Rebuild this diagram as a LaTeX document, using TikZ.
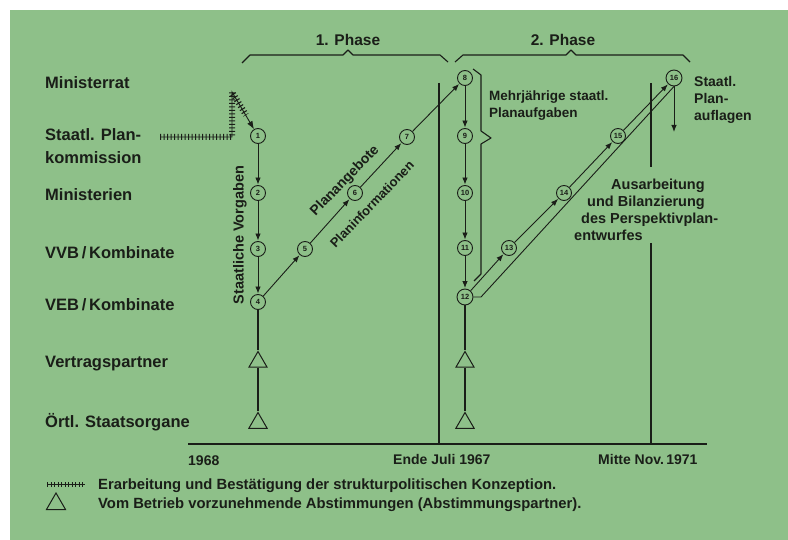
\documentclass[tikz,border=0pt]{standalone}
\usepackage{fontspec}
\setmainfont{Liberation Sans}
\usetikzlibrary{arrows.meta,shapes.geometric,positioning}
\definecolor{planbg}  {RGB}{142,192,137}
\definecolor{planink} {RGB}{26,30,24}

\begin{document}
\begin{tikzpicture}[x=1pt, y=-1pt,
  stufe/.style={circle, draw=planink, line width=0.9pt,
                minimum size=15pt, inner sep=0pt, text=planink,
                font=\fontsize{7.5}{8}\selectfont\bfseries},
  dreieck/.style={regular polygon, regular polygon sides=3,
                  draw=planink, line width=1pt,
                  minimum size=21pt, inner sep=0pt},
  ebene/.style={inner sep=0pt, align=left, text=planink,
                font=\fontsize{16.5}{23}\selectfont\bfseries},
  txt/.style={inner sep=0pt, align=left, text=planink,
              font=\fontsize{#1}{17}\selectfont\bfseries},
  txt/.default=14,
  pfeil/.style={-{Latex[length=7pt,width=5.5pt]}, line width=0.9pt,
                draw=planink, shorten >=0.5pt},
  lin/.style={line width=1.1pt, draw=planink},
  achse/.style={line width=2pt, draw=planink},
  klammer/.style={line width=1.1pt, draw=planink, line join=round},
  konz/.style={line width=0.9pt, draw=planink},
  strich/.style={line width=#1, draw=planink, line join=bevel,
                 dash pattern=on 1.1pt off 2.4pt},
  strich/.default=6pt
]
  % background
  \useasboundingbox (0,0) rectangle (788,540);
  \fill[white] (-5,-5) rectangle (800,550);
  \fill[planbg] (10,10) rectangle (800,550);

  % levels
  \node[ebene, anchor=base west] (mr)  at (45,89)  {Ministerrat};
  \node[ebene, anchor=north west] (spk) at (45,128) {Staatl. Plan-\\kommission};
  \node[ebene, anchor=base west] (min) at (45,201) {Ministerien};
  \node[ebene, anchor=base west] (vvb) at (45,259) {VVB\,/\,Kombinate};
  \node[ebene, anchor=base west] (veb) at (45,311) {VEB\,/\,Kombinate};
  \node[ebene, anchor=base west] (vp)  at (45,368) {Vertragspartner};
  \node[ebene, anchor=base west] (oso) at (45,428) {Örtl. Staatsorgane};

  % time axis
  \coordinate (t0) at (188,444);
  \coordinate (t1) at (707,444);
  \coordinate (juliO) at (439,83);
  \coordinate (juli)  at (439,444);
  \coordinate (novO)  at (651,83);
  \coordinate (novM)  at (651,167);
  \coordinate (novU)  at (651,243);
  \coordinate (nov)   at (651,444);
  \draw[achse] (t0) -- (t1);
  \draw[lin] (juliO) -- (juli);
  \draw[lin] (novO) -- (novM);
  \draw[lin] (novU) -- (nov);
  \node[txt, anchor=base west] (j68) at (188,465) {1968};
  \node[txt, anchor=base west] (j67) at (393,464) {Ende Juli 1967};
  \node[txt, anchor=base west] (j71) at (598,464) {Mitte Nov.\,1971};

  % steps
  \node[stufe] (N1)  at (258,136) {1};
  \node[stufe] (N2)  at (258,193) {2};
  \node[stufe] (N3)  at (258,249) {3};
  \node[stufe] (N4)  at (258,302) {4};
  \node[stufe] (N5)  at (305,249) {5};
  \node[stufe] (N6)  at (355,193) {6};
  \node[stufe] (N7)  at (407,137) {7};
  \node[stufe] (N8)  at (465,78)  {8};
  \node[stufe] (N9)  at (465,136) {9};
  \node[stufe] (N10) at (465,193) {10};
  \node[stufe] (N11) at (465,248) {11};
  \node[stufe, minimum size=16pt] (N12) at (465,297) {12};
  \node[stufe] (N13) at (509,248) {13};
  \node[stufe] (N14) at (564,193) {14};
  \node[stufe] (N15) at (618,136) {15};
  \node[stufe, minimum size=16pt] (N16) at (674,78) {16};

  \node[dreieck] (T1) at (258,362) {};
  \node[dreieck] (T2) at (258,423) {};
  \node[dreieck] (T3) at (465,362) {};
  \node[dreieck] (T4) at (465,423) {};

  \foreach \von/\nach in {N1/N2, N2/N3, N3/N4, N4/N5, N5/N6, N6/N7, N7/N8,
                          N8/N9, N9/N10, N10/N11, N11/N12,
                          N12/N13, N13/N14, N14/N15, N15/N16}
    \draw[pfeil] (\von) -- (\nach);
  \foreach \von/\nach in {N4/T1, T1/T2, N12/T3, T3/T4}
    \draw[lin] (\von) -- (\nach);

  % back to 12 and down from 16
  \coordinate (rueck) at (481,297);
  \coordinate (auflage) at (674,132);
  \draw[konz] (N16.south) -- (rueck) -- (N12.east);
  \draw[pfeil, shorten >=0pt] (N16) -- (auflage);

  % structural concept
  \coordinate (k0) at (160,137);
  \coordinate (k1) at (232,137);
  \coordinate (k2) at (232,92);
  \coordinate (k3) at (246,115);
  \draw[strich] (k0) -- (k1) -- (k2) -- (k3);
  \draw[konz, -{Latex[length=8pt,width=6pt]}] (k0) -- (k1) -- (k2) -- (N1);

  % phases
  \draw[klammer] (242,63) -- (250,55) -- (343,55) -- (348,50) -- (353,55)
                 -- (440,55) -- (448,62);
  \draw[klammer] (455,62) -- (463,55) -- (566,55) -- (571,50) -- (576,55)
                 -- (683,55) -- (690,62);
  \node[txt=15.5, anchor=base] (ph1) at (348,46) {1. Phase};
  \node[txt=15.5, anchor=base] (ph2) at (563,46) {2. Phase};

  % multi-year tasks
  \draw[klammer] (473,69) -- (481,75) -- (481,131) -- (491,138) -- (481,144)
                 -- (481,274) -- (474,281);
  \node[txt=13.5, anchor=north west] (mehr) at (489,91)
    {Mehrjährige staatl.\\Planaufgaben};

  % labels along the flow
  \node[txt=14.5, rotate=90] (vorg) at (240,235) {Staatliche Vorgaben};
  \node[txt=14, rotate=46] (angeb) at (345,181) {Planangebote};
  \node[txt=13, rotate=46] (pinfo) at (372,204) {Planinformationen};
  \node[txt=14.5, anchor=north west] (ausarb) at (574,179)
    {\hspace*{37pt}Ausarbeitung\\\hspace*{13pt}und Bilanzierung\\
     \hspace*{7pt}des Perspektivplan-\\entwurfes};
  \node[txt=14, anchor=north west] (aufl) at (694,76)
    {Staatl.\\Plan-\\auflagen};

  % legend
  \coordinate (leg0) at (47,484);
  \coordinate (leg1) at (85,484);
  \draw[strich=5pt] (leg0) -- (leg1);
  \draw[konz] (leg0) -- (leg1);
  \node[dreieck, minimum size=22pt] (legT) at (56,504) {};
  \node[txt=14.8, anchor=base west] (leg1t) at (98,489)
    {Erarbeitung und Bestätigung der strukturpolitischen Konzeption.};
  \node[txt=14.8, anchor=base west] (leg2t) at (98,508)
    {Vom Betrieb vorzunehmende Abstimmungen (Abstimmungspartner).};
\end{tikzpicture}
\end{document}
